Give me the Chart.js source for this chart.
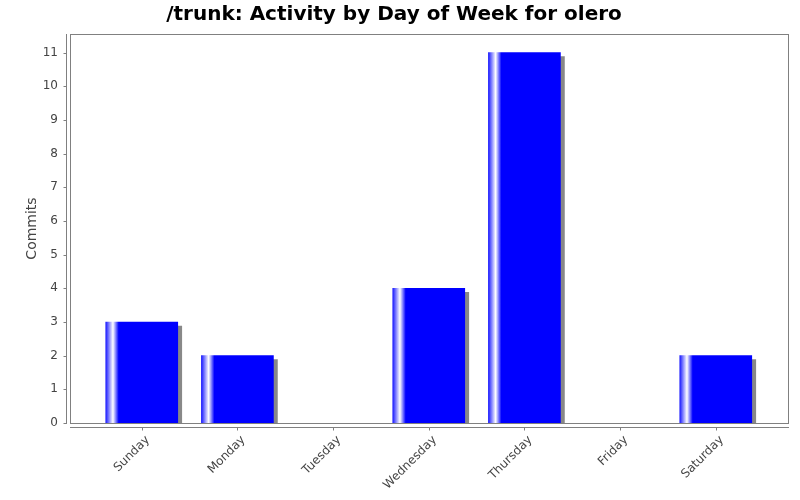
<!DOCTYPE html>
<html>
<head>
<meta charset="utf-8">
<script src="https://cdn.jsdelivr.net/npm/chart.js@4/dist/chart.umd.min.js"></script>
<style>
  body { margin: 0; background: #fff; }
  #wrap { width: 800px; height: 500px; }
</style>
</head>
<body>
<div id="wrap"><canvas id="chart" width="800" height="500"></canvas></div>
<script>
const days = ["Sunday", "Monday", "Tuesday", "Wednesday", "Thursday", "Friday", "Saturday"];
const commits = [3, 2, 0, 4, 11, 0, 2];
const yTicks = [0, 1, 2, 3, 4, 5, 6, 7, 8, 9, 10, 11];

const FONT = "'DejaVu Sans', sans-serif";
const LINE = "#808080";

function barGradient(c) {
  const chart = c.chart;
  const xs = chart.scales.x;
  if (c.type !== "data" || !xs || !c.raw) return "#0000ff";
  if (c.raw.y === 0) return "rgba(0,0,0,0)";
  const cx = xs.getPixelForValue(c.raw.x);
  if (!isFinite(cx)) return "#0000ff";
  const left = cx - 36;
  const g = chart.ctx.createLinearGradient(left, 0, left + 72, 0);
  g.addColorStop(0, "#1a1aff");
  g.addColorStop(0.1, "#ffffff");
  g.addColorStop(0.18, "#0000ff");
  g.addColorStop(1, "#0000ff");
  return g;
}

// grey drop shadow under the bars
const shadowPlugin = {
  id: "shadow",
  beforeDatasetsDraw(chart) {
    const ctx = chart.ctx;
    ctx.save();
    ctx.shadowColor = "#888888";
    ctx.shadowOffsetX = 4;
    ctx.shadowOffsetY = 4;
    ctx.shadowBlur = 0;
  },
  afterDatasetsDraw(chart) {
    chart.ctx.restore();
  }
};

// plot frame, axis lines and tick marks like the old jfreechart look
const framePlugin = {
  id: "frame",
  afterDraw(chart) {
    const ctx = chart.ctx;
    const a = chart.chartArea;
    const ys = chart.scales.y;
    const xs = chart.scales.x;
    ctx.save();
    ctx.strokeStyle = LINE;
    ctx.lineWidth = 1;
    ctx.strokeRect(Math.round(a.left) + 0.5, Math.round(a.top) + 0.5, Math.round(a.right - a.left), Math.round(a.bottom - a.top));
    ctx.beginPath();
    const yx = Math.round(a.left) - 3.5;
    ctx.moveTo(yx, a.top);
    ctx.lineTo(yx, a.bottom + 1);
    yTicks.forEach(v => {
      const py = Math.round(ys.getPixelForValue(v)) + 0.5;
      ctx.moveTo(yx, py);
      ctx.lineTo(yx - 3, py);
    });
    const xy = Math.round(a.bottom) + 4.5;
    ctx.moveTo(a.left, xy);
    ctx.lineTo(a.right + 1, xy);
    days.forEach((d, i) => {
      const px = Math.round(xs.getPixelForValue(i)) + 0.5;
      ctx.moveTo(px, xy);
      ctx.lineTo(px, xy + 3);
    });
    ctx.stroke();
    ctx.restore();
  }
};

new Chart(document.getElementById("chart"), {
  type: "bar",
  data: {
    datasets: [{
      label: "Commits",
      data: days.map((d, i) => ({ x: i, y: commits[i] })),
      backgroundColor: barGradient,
      borderWidth: 0,
      barThickness: 72
    }]
  },
  plugins: [shadowPlugin, framePlugin],
  options: {
    responsive: false,
    animation: false,
    layout: { padding: { top: 0, right: 12, bottom: 0, left: 0 } },
    plugins: {
      legend: { display: false },
      tooltip: { enabled: false },
      title: {
        display: true,
        text: "/trunk: Activity by Day of Week for olero",
        color: "#000",
        font: { family: FONT, size: 20, weight: "bold" },
        padding: { top: 3, bottom: 7 }
      }
    },
    scales: {
      x: {
        type: "linear",
        offset: false,
        min: -0.75,
        max: 6.755,
        grid: { display: false },
        border: { display: false },
        afterBuildTicks: s => { s.ticks = days.map((d, i) => ({ value: i })); },
        afterFit: s => { s.height = 77; },
        ticks: {
          callback: v => days[v],
          color: "#444",
          font: { family: FONT, size: 12 },
          minRotation: 45,
          maxRotation: 45,
          autoSkip: false,
          padding: 2,
          labelOffset: 6
        }
      },
      y: {
        min: 0,
        max: 11.55,
        grid: { display: false },
        border: { display: false },
        afterBuildTicks: s => { s.ticks = yTicks.map(v => ({ value: v })); },
        afterFit: s => { s.width = 70; },
        title: {
          display: true,
          text: "Commits",
          color: "#444",
          font: { family: FONT, size: 14 },
          padding: { top: 24, bottom: 0 }
        },
        ticks: {
          color: "#444",
          font: { family: FONT, size: 12 },
          padding: 4
        }
      }
    }
  }
});
</script>
</body>
</html>
